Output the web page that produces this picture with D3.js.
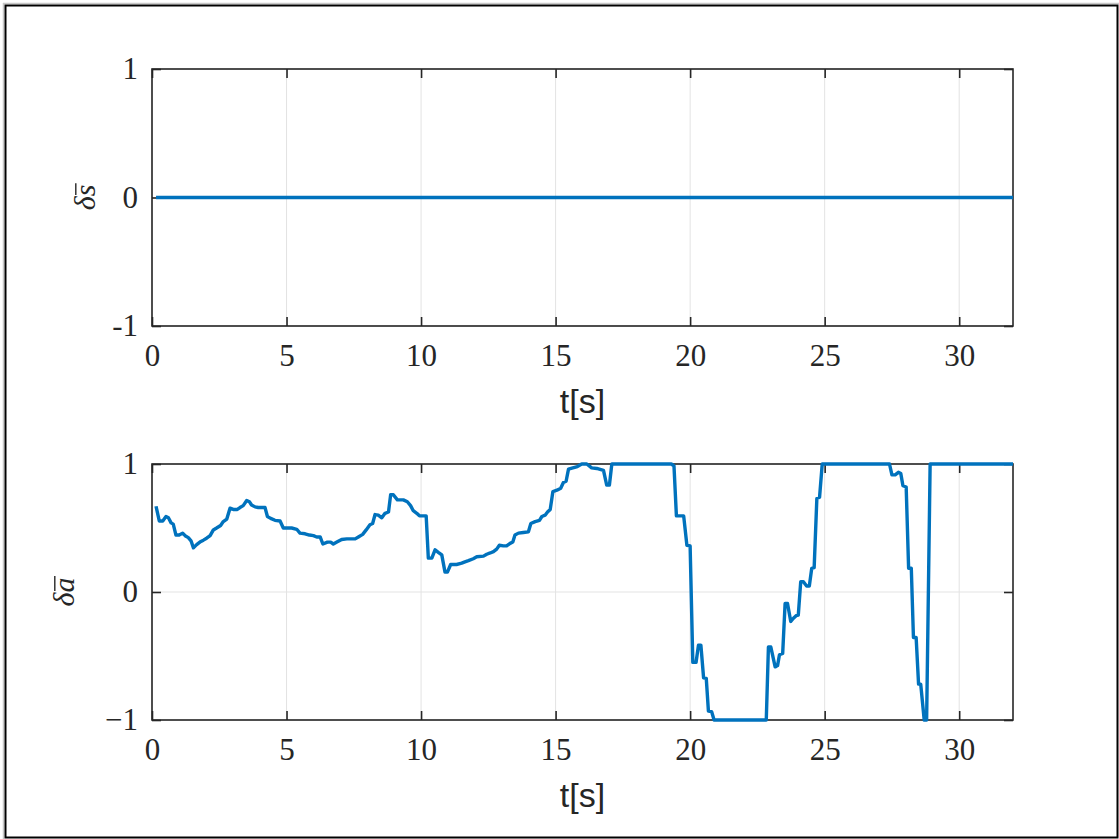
<!DOCTYPE html>
<html>
<head>
<meta charset="utf-8">
<script src="https://cdn.jsdelivr.net/npm/d3@7"></script>
<style>
  html, body { margin: 0; padding: 0; background: #ffffff; }
  svg { display: block; }
</style>
</head>
<body>
<svg id="fig" width="1119" height="839"></svg>
<script>
// Time axis ticks (shared by both panels)
const xTicks = [0, 5, 10, 15, 20, 25, 30];
const yTicks = [-1, 0, 1];
const yTickLabelsTop = ["-1", "0", "1"];
const yTickLabelsBottom = ["\u22121", "0", "1"];

// Upper panel: delta s-bar (stays at zero over the whole run)
const tTop = [0.15, 32];
const deltaS = [0, 0];

// Lower panel: delta a-bar
const tBottom = [
  0.15, 0.27, 0.40, 0.52, 0.61, 0.71, 0.79, 0.89, 1.01, 1.14,
  1.23, 1.35, 1.45, 1.54, 1.66, 1.78, 1.91, 2.03, 2.16, 2.28,
  2.40, 2.55, 2.65, 2.78, 2.90, 3.02, 3.17, 3.27, 3.39, 3.52,
  3.62, 3.70, 3.83, 3.95, 4.20, 4.29, 4.41, 4.57, 4.76, 4.88,
  5.03, 5.19, 5.38, 5.50, 5.69, 5.85, 6.00, 6.12, 6.25, 6.35,
  6.52, 6.64, 6.74, 6.87, 7.05, 7.24, 7.55, 7.67, 7.83, 7.96,
  8.10, 8.20, 8.29, 8.41, 8.54, 8.66, 8.79, 8.87, 8.97, 9.12,
  9.34, 9.49, 9.61, 9.71, 9.84, 9.94, 10.19, 10.27, 10.40, 10.52,
  10.64, 10.77, 10.89, 10.98, 11.10, 11.32, 11.51, 11.63, 11.76, 11.94,
  12.07, 12.32, 12.44, 12.57, 12.69, 12.81, 12.91, 13.06, 13.18, 13.31,
  13.41, 13.49, 13.62, 13.80, 13.99, 14.08, 14.24, 14.40, 14.49, 14.61,
  14.70, 14.80, 14.90, 15.05, 15.19, 15.29, 15.39, 15.48, 15.64, 15.81,
  15.97, 16.16, 16.34, 16.53, 16.78, 16.90, 17.00, 17.09, 19.30, 19.40,
  19.49, 19.76, 19.88, 20.00, 20.10, 20.22, 20.31, 20.40, 20.50, 20.60,
  20.68, 20.80, 20.89, 22.83, 22.91, 23.00, 23.16, 23.25, 23.32, 23.44,
  23.53, 23.62, 23.74, 23.84, 23.94, 24.02, 24.11, 24.21, 24.33, 24.43,
  24.52, 24.61, 24.71, 24.81, 24.91, 27.41, 27.50, 27.62, 27.74, 27.83,
  27.91, 28.03, 28.12, 28.22, 28.30, 28.40, 28.49, 28.57, 28.70, 28.79,
  28.92, 32.00
];
const deltaA = [
  0.67, 0.555, 0.555, 0.59, 0.58, 0.54, 0.53, 0.445, 0.445, 0.46,
  0.44, 0.425, 0.40, 0.345, 0.37, 0.39, 0.405, 0.42, 0.44, 0.485,
  0.50, 0.52, 0.55, 0.57, 0.655, 0.645, 0.645, 0.66, 0.675, 0.715,
  0.705, 0.68, 0.665, 0.66, 0.66, 0.59, 0.575, 0.56, 0.555, 0.50,
  0.50, 0.50, 0.49, 0.46, 0.455, 0.445, 0.44, 0.43, 0.43, 0.375,
  0.39, 0.39, 0.375, 0.39, 0.41, 0.415, 0.415, 0.43, 0.45, 0.485,
  0.525, 0.535, 0.605, 0.60, 0.58, 0.615, 0.625, 0.76, 0.76, 0.72,
  0.72, 0.705, 0.675, 0.635, 0.615, 0.595, 0.595, 0.265, 0.265, 0.33,
  0.31, 0.29, 0.155, 0.155, 0.215, 0.215, 0.225, 0.235, 0.245, 0.26,
  0.275, 0.28, 0.295, 0.305, 0.315, 0.335, 0.365, 0.36, 0.36, 0.38,
  0.39, 0.445, 0.46, 0.465, 0.47, 0.535, 0.55, 0.56, 0.59, 0.60,
  0.625, 0.645, 0.785, 0.795, 0.81, 0.855, 0.865, 0.96, 0.97, 0.98,
  1.0, 1.0, 0.97, 0.965, 0.95, 0.835, 0.835, 1.0, 1.0, 0.985,
  0.595, 0.595, 0.365, 0.36, -0.55, -0.55, -0.415, -0.415, -0.67, -0.675,
  -0.93, -0.935, -1.0, -1.0, -0.43, -0.43, -0.585, -0.575, -0.49, -0.48,
  -0.09, -0.09, -0.23, -0.205, -0.185, -0.18, 0.08, 0.08, 0.047, 0.047,
  0.185, 0.19, 0.73, 0.74, 1.0, 1.0, 0.915, 0.915, 0.935, 0.925,
  0.83, 0.82, 0.185, 0.185, -0.355, -0.355, -0.72, -0.72, -1.0, -1.0,
  1.0, 1.0
];

const axisColor = "#262626";
const gridColor = "#e3e3e3";
const lineColor = "#0072BD";
const tickFont = "'Liberation Serif', 'Times New Roman', serif";
const labelFont = "'Liberation Sans', Arial, Helvetica, sans-serif";
const tickFontSize = 31;

const svg = d3.select("#fig");

// Figure frame
svg.append("line").attr("x1", 3.5).attr("x2", 3.5).attr("y1", 3).attr("y2", 839)
  .attr("stroke", "#c8c8c8").attr("stroke-width", 1.5);
svg.append("line").attr("x1", 3).attr("x2", 1119).attr("y1", 3.5).attr("y2", 3.5)
  .attr("stroke", "#c8c8c8").attr("stroke-width", 1.5);
svg.append("rect").attr("x", 5.5).attr("y", 5.5).attr("width", 1112).attr("height", 832)
  .attr("fill", "none").attr("stroke", "#000").attr("stroke-width", 2);

const left = 152, right = 1013;
const x = d3.scaleLinear().domain([0, 32]).range([left, right]);

function panel(top, bottom, tData, yData, yTickLabels, ySym, yLabelX) {
  const y = d3.scaleLinear().domain([-1, 1]).range([bottom, top]);
  const g = svg.append("g");

  // Grid
  g.append("g").selectAll("line").data(xTicks).join("line")
    .attr("x1", d => x(d)).attr("x2", d => x(d))
    .attr("y1", top).attr("y2", bottom)
    .attr("stroke", gridColor).attr("stroke-width", 1);
  g.append("g").selectAll("line").data(yTicks).join("line")
    .attr("x1", left).attr("x2", right)
    .attr("y1", d => y(d)).attr("y2", d => y(d))
    .attr("stroke", gridColor).attr("stroke-width", 1);

  // Axes on all four sides, ticks pointing inward
  const tickLen = 9;
  const axB = d3.axisBottom(x).tickValues(xTicks).tickSize(-tickLen).tickFormat(d3.format("d")).tickPadding(20);
  const axT = d3.axisTop(x).tickValues(xTicks).tickSize(-tickLen).tickFormat("");
  const axL = d3.axisLeft(y).tickValues(yTicks).tickSize(-tickLen).tickFormat((d, i) => yTickLabels[i]).tickPadding(14);
  const axR = d3.axisRight(y).tickValues(yTicks).tickSize(-tickLen).tickFormat("");

  const styleAxis = sel => {
    sel.select(".domain").remove();
    sel.selectAll(".tick line").attr("stroke", axisColor).attr("stroke-width", 1.6);
    sel.selectAll(".tick text").attr("fill", axisColor)
      .style("font-family", tickFont).style("font-size", tickFontSize + "px");
  };

  g.append("g").attr("transform", `translate(0,${bottom})`).call(axB).call(styleAxis)
    .selectAll(".tick text").attr("dy", "0.66em");
  g.append("g").attr("transform", `translate(0,${top})`).call(axT).call(styleAxis);
  g.append("g").attr("transform", `translate(${left},0)`).call(axL).call(styleAxis)
    .selectAll(".tick text").attr("dy", "0.32em");
  g.append("g").attr("transform", `translate(${right},0)`).call(axR).call(styleAxis);

  // Axes box
  g.append("rect").attr("x", left).attr("y", top)
    .attr("width", right - left).attr("height", bottom - top)
    .attr("fill", "none").attr("stroke", axisColor).attr("stroke-width", 1.6);

  // Data line
  const pts = tData.map((t, i) => [t, yData[i]]);
  g.append("path").datum(pts)
    .attr("fill", "none").attr("stroke", lineColor).attr("stroke-width", 3.4)
    .attr("stroke-linejoin", "round")
    .attr("d", d3.line().x(d => x(d[0])).y(d => y(d[1])));

  // x label
  g.append("text").attr("x", (left + right) / 2).attr("y", bottom + 87)
    .attr("text-anchor", "middle").attr("fill", axisColor)
    .style("font-family", labelFont).style("font-size", "34px")
    .text("t[s]");

  // y label: delta with an overbarred symbol, rotated
  const fs = 30;
  const yl = g.append("g")
    .attr("transform", `translate(${yLabelX},${(top + bottom) / 2}) rotate(-90)`);
  const txt = yl.append("text").attr("x", 0).attr("y", 0)
    .attr("text-anchor", "middle").attr("fill", axisColor)
    .style("font-family", tickFont).style("font-style", "italic")
    .style("font-size", fs + "px")
    .text("\u03b4" + ySym);
  const node = txt.node();
  const s0 = node.getStartPositionOfChar(1).x;
  const s1 = node.getEndPositionOfChar(1).x;
  yl.append("line")
    .attr("x1", s0 + 1.5).attr("x2", s1 + 1.5)
    .attr("y1", -0.64 * fs).attr("y2", -0.64 * fs)
    .attr("stroke", axisColor).attr("stroke-width", 1.4);
}

panel(69, 326, tTop, deltaS, yTickLabelsTop, "s", 95);
panel(464, 720, tBottom, deltaA, yTickLabelsBottom, "a", 74);
</script>
</body>
</html>
